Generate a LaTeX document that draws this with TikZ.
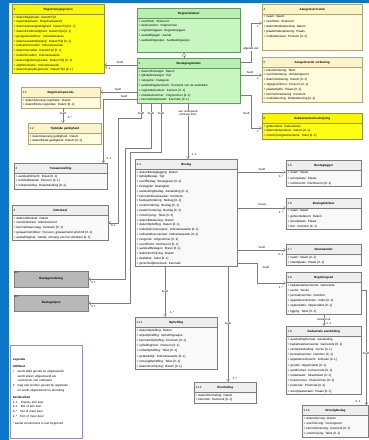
\documentclass[tikz,border=0pt]{standalone}
\usepackage{fontspec}
\setmainfont{Liberation Sans}
\usetikzlibrary{shapes.multipart,arrows.meta}

\definecolor{frameblue}{RGB}{12,118,200}
\definecolor{linegrey}{RGB}{125,125,125}
\definecolor{yellowline}{RGB}{150,145,60}
\definecolor{yellowhead}{RGB}{250,245,0}
\definecolor{yellowbody}{RGB}{255,255,20}
\definecolor{creamline}{RGB}{175,165,115}
\definecolor{creamhead}{RGB}{250,244,200}
\definecolor{creambody}{RGB}{255,252,222}
\definecolor{greenline}{RGB}{95,155,95}
\definecolor{greenhead}{RGB}{185,240,175}
\definecolor{greenbody}{RGB}{200,246,192}
\definecolor{whiteline}{RGB}{125,125,125}
\definecolor{whitehead}{RGB}{238,238,238}
\definecolor{whitebody}{RGB}{249,249,249}
\definecolor{greybox}{RGB}{184,184,184}
\definecolor{legendline}{RGB}{150,140,200}

\newcommand\hd[2]{\rule[-3pt]{0pt}{7.5pt}#1\hfill\textbf{#2}\hfill\phantom{#1}}

\begin{document}
\begin{tikzpicture}
  [
  x=1pt, y=-1pt, font=\fontsize{3}{4.8}\selectfont,
  cls/.style={rectangle split, rectangle split parts=2, rectangle split draw splits,
    draw, anchor=north west, inner xsep=1.5pt, inner ysep=1.2pt, align=left, line width=0.4pt},
  yellowcls/.style={cls, draw=yellowline, rectangle split part fill={yellowhead,yellowbody}},
  creamcls/.style={cls, draw=creamline, rectangle split part fill={creamhead,creambody}},
  greencls/.style={cls, draw=greenline, rectangle split part fill={greenhead,greenbody}},
  whitecls/.style={cls, draw=whiteline, rectangle split part fill={whitehead,whitebody}},
  loose/.style={font=\fontsize{3}{5.2}\selectfont},
  greycls/.style={draw=whiteline, fill=greybox, anchor=north west, minimum width=74pt,
    minimum height=16pt, font=\fontsize{3}{4.8}\selectfont\bfseries, line width=0.4pt},
  assoc/.style={draw=linegrey, line width=0.45pt, -{Straight Barb[length=2.2pt,width=3.2pt]}},
  gen/.style={draw=linegrey, line width=0.45pt, -{Triangle[open,length=4pt,width=4.5pt]}},
  lbl/.style={fill=white, inner sep=0.4pt, font=\fontsize{2.8}{3.2}\selectfont},
  mult/.style={inner sep=0.4pt, font=\fontsize{2.8}{3.2}\selectfont}
  ]

\useasboundingbox (0,0) rectangle (369,440);
\fill[white] (0,0) rectangle (369,440);
\fill[frameblue] (0,0) rectangle (9,440);
\fill[frameblue] (0,0) rectangle (369,3);

% left column
\node[yellowcls, text width=89pt] (regGeg) at (12,4) {\hd{1}{Registratiegegevens}
  \nodepart{second}
  + datumRegistratie: Datum/Tijd\\
  + registratieplaats: Registratieplaats\\
  + datumAanvangGeldigheid: Datum/Tijd [0..1]\\
  + datumEindeGeldigheid: Datum/Tijd [0..1]\\
  + geregistreerdDoor: Indicatiewaarde\\
  + datumLaatsteWijziging: Datum/Tijd [0..1]\\
  + indicatieVervallen: Indicatiewaarde\\
  + datumVervallen: Datum/Tijd [0..1]\\
  + redenVervallen: Indicatiewaarde\\
  + datumAfgifteRegistratie: Datum/Tijd [0..1]\\
  + afgifteIndicatie: Indicatiewaarde\\
  + datumIngangRegistratie: Datum/Tijd [0..1]};

\node[creamcls, text width=76pt] (regHist) at (21,87) {\hd{1.1}{Registratieperiode}
  \nodepart{second}
  + datumAanvang registratie: Datum\\
  + datumEinde registratie: Datum [0..1]};

\node[creamcls, text width=70pt] (tijdGeld) at (28,123) {\hd{1.2}{Tijdelijke geldigheid}
  \nodepart{second}
  + datumAanvang geldigheid: Datum\\
  + datumEinde geldigheid: Datum [0..1]};

\node[whitecls, text width=90pt] (tenaam) at (14,163) {\hd{2}{Tenaamstelling}
  \nodepart{second}
  + aandeelInRecht: Breuk [0..1]\\
  + rechthebbende: Persoon [0..1]\\
  + rolAanduiding: Rolaanduiding [0..1]};

\node[whitecls, text width=93pt] (uitvoer) at (12,205) {\hd{3}{Uittreksel}
  \nodepart{second}
  + datumUittreksel: Datum\\
  + soortUittreksel: Uittrekselsoort\\
  + kenmerkAanvraag: Kenmerk [0..1]\\
  + gewaarmerktDoor: Persoon, gewaarmerkt afschrift [0..1]\\
  + aantalPaginas: Aantal, omvang van het uittreksel [0..1]};

\node[greycls, label={[mult, anchor=north west]north west:3.1}] (beslagVord) at (14,271) {Beslagvordering};
\node[greycls, label={[mult, anchor=north west]north west:3.2}] (beslagObj) at (14,295) {Beslagobject};

\node[draw=legendline, line width=0.5pt, anchor=north west, minimum width=72pt,
  minimum height=93pt, text width=67pt, align=left, inner sep=2pt] (legenda) at (10,345) {
  \textbf{Legenda}\\[2pt]
  \textbf{Attribuut}\\
  +\quad wordt altijd gevuld en uitgewisseld\\
  \phantom{+\quad}wordt alleen uitgewisseld als\\
  \phantom{+\quad}voorkomen niet ontbreekt\\
  \#\quad mag niet worden gevuld bij registratie\\
  \phantom{\#\quad}en wordt uitgewisseld na afronding\\[2pt]
  \textbf{Kardinaliteit}\\
  1..1\quad Precies één keer\\
  0..1\quad Nul of één keer\\
  0..*\quad Nul of meer keer\\
  1..*\quad Eén of meer keer\\[2pt]
  * aantal voorkomens is niet begrensd};

% middle column
\node[greencls, text width=100pt] (regDeel) at (137,8) {\hd{}{Registratiedeel}
  \nodepart{second}
  + soortStuk: Stuksoort\\
  + deelnummer: Volgnummer\\
  + registerOpgave: Registeropgave\\
  + aantalBijlagen: Aantal\\
  + aanbiedingswijze: Aanbiedingswijze\\
  \phantom{x}\\
  \phantom{x}};

\node[greencls, text width=100pt] (kern) at (137,58) {\hd{1}{Beslagregistratie}
  \nodepart{second}
  + datumOntvangst: Datum\\
  + tijdstipOntvangst: Tijd\\
  + categorie: Categorie\\
  + aanbiedingskenmerk: Kenmerk van de aanbieder\\
  + registratiekantoor: Kantoor [0..1]\\
  + stukdeelnummer: Volgnummer [0..1]\\
  + kenmerkAanbieder: Kenmerk [0..1]};

\node[whitecls, text width=99pt] (beslag) at (135,159) {\hd{1.4}{Beslag}
  \nodepart{second}
  + datumBeslaglegging: Datum\\
  + tijdstipBeslag: Tijd\\
  + soortBeslag: Beslagsoort [0..1]\\
  + beslagtitel: Beslagtitel\\
  + aanduidingBeslag: Aanduiding [0..1]\\
  + kenmerkDeurwaarder: Kenmerk\\
  + bedragVordering: Bedrag [0..1]\\
  + renteVordering: Bedrag [0..1]\\
  + kostenVordering: Bedrag [0..1]\\
  + omschrijving: Tekst [0..1]\\
  + datumBetekening: Datum\\
  + datumOpheffing: Datum [0..1]\\
  + indicatieConservatoir: Indicatiewaarde [0..1]\\
  + indicatieExecutoriaal: Indicatiewaarde [0..1]\\
  + rangorde: Volgnummer [0..1]\\
  + soortRecht: Rechtsoort [0..1]\\
  + aandeelBeslagen: Breuk [0..1]\\
  + datumInschrijving: Datum\\
  + deeltekst: Tekst [0..1]\\
  + gerechtelijkKenmerk: Kenmerk};

\node[whitecls, loose, text width=79pt] (opheffing) at (135,317) {\hd{1.11}{Opheffing}
  \nodepart{second}
  + datumOpheffing: Datum\\
  + wijzeOpheffing: Opheffingswijze\\
  + kenmerkOpheffing: Kenmerk [0..1]\\
  + opheffingDoor: Persoon [0..1]\\
  + redenOpheffing: Tekst [0..1]\\
  + gedeeltelijk: Indicatiewaarde [0..1]\\
  + omvangOpheffing: Tekst [0..1]\\
  + datumInschrijving: Datum [0..1]};

\node[whitecls, text width=59pt] (doorhaling) at (194,382) {\hd{1.12}{Doorhaling}
  \nodepart{second}
  + datumDoorhaling: Datum\\
  + kenmerk: Kenmerk [0..1]};

% right column
\node[creamcls, text width=97pt] (stuk) at (262,4) {\hd{4}{Aangeleverd stuk}
  \nodepart{second}
  + naam: Naam\\
  + soortStuk: Stuksoort\\
  + datumOndertekening: Datum\\
  + plaatsOndertekening: Plaats\\
  + ondertekenaar: Persoon [0..1]\\
  \phantom{x}\\[2pt]
  \phantom{x}};

\node[creamcls, text width=97pt] (verklaring) at (262,57) {\hd{5}{Aangeleverde verklaring}
  \nodepart{second}
  + tekstVerklaring: Tekst\\
  + soortVerklaring: Verklaringsoort\\
  + datumVerklaring: Datum [0..1]\\
  + afgegevenDoor: Persoon [0..1]\\
  + plaatsAfgifte: Plaats [0..1]\\
  + kenmerkVerklaring: Kenmerk\\
  + ondertekening: Ondertekening [0..1]};

\node[yellowcls, text width=97pt] (gebeurtenis) at (262,113) {\hd{6}{Gebeurtenisomschrijving}
  \nodepart{second}
  + gebeurtenis: Gebeurtenis\\
  + datumGebeurtenis: Datum [0..1]\\
  + omschrijvingGebeurtenis: Tekst [0..1]};

\node[whitecls, loose, text width=72pt] (legger) at (286,160) {\hd{1.5}{Beslaglegger}
  \nodepart{second}
  + naam: Naam\\
  + woonplaats: Plaats\\
  + rechtsvorm: Rechtsvorm [0..1]};

\node[whitecls, loose, text width=72pt] (debiteur) at (286,198) {\hd{1.6}{Beslagdebiteur}
  \nodepart{second}
  + naam: Naam\\
  + geboortedatum: Datum\\
  + woonplaats: Plaats\\
  + bsn: Nummer [0..1]};

\node[whitecls, loose, text width=72pt] (deurwaarder) at (286,244) {\hd{1.7}{Deurwaarder}
  \nodepart{second}
  + naam: Naam [0..1]\\
  + standplaats: Plaats [0..1]};

\node[whitecls, loose, text width=72pt] (goed) at (286,272) {\hd{1.8}{Registergoed}
  \nodepart{second}
  + kadastraleGemeente: Gemeente\\
  + sectie: Sectie\\
  + perceelnummer: Nummer\\
  + appartementsindex: Index [0..1]\\
  + oppervlakte: Oppervlakte [0..1]\\
  + ligging: Tekst [0..1]};

\node[whitecls, loose, text width=72pt] (perceel) at (286,326) {\hd{1.9}{Kadastrale aanduiding}
  \nodepart{second}
  + aanduidingPerceel: Aanduiding\\
  + kadastraleGemeente: Gemeente [0..1]\\
  + sectieAanduiding: Sectie [0..1]\\
  + perceelnummer: Nummer [0..1]\\
  + appartementsrecht: Indicatie [0..1]\\
  + grootte: Oppervlakte [0..1]\\
  + aardCultuur: Cultuurcode [0..1]\\
  + straatnaam: Straatnaam [0..1]\\
  + huisnummer: Huisnummer [0..1]\\
  + postcode: Postcode [0..1]\\
  + woonplaatsnaam: Plaats [0..1]};

\node[whitecls, loose, text width=63pt] (vervolg) at (302,405) {\hd{1.10}{Vervolgbeslag}
  \nodepart{second}
  + datumVervolg: Datum\\
  + soortVervolg: Vervolgsoort\\
  + kenmerkVervolg: Kenmerk [0..1]\\
  + omschrijving: Tekst [0..1]};

% connectors
\draw[gen] (kern.north -| 184,0) -- (regDeel.south -| 184,0);

\draw[assoc] (kern.west |- 0,65) -- (regGeg.east |- 0,65);
\node[mult] at (120,62.5) {heeft};
\node[mult] at (108,69) {0..1};
\draw[assoc] (kern.west |- 0,92) -- (regHist.east |- 0,92);
\node[mult] at (118,89.5) {heeft};
\draw[assoc] (kern.west |- 0,99) -| ([xshift=-4pt]tenaam.north east);
\node[mult] at (124,96.5) {heeft};
\node[mult] at (109,159) {0..1};
\draw[assoc] (regHist.south -| 63,0) -- (tijdGeld.north -| 63,0);
\node[lbl] at (63,113) {heeft};
\node[mult] at (70,118) {0..*};

\foreach \tgt/\xa/\ya/\xb in {uitvoer/141/118/118, beslagVord/151/148/125, beslagObj/161/152/130} {
  \draw[assoc] (kern.south -| \xa,0) |- (\xb,\ya) |- (\tgt.east);
  \node[lbl] at (\xa,113) {heeft};
  \node[mult, anchor=north west] at ([shift={(2pt,-1.5pt)}]\tgt.east) {0..1};
}

\draw[assoc] (kern.south -| 188,0) -- (beslag.north -| 188,0);
\node[lbl, align=center] at (188,113) {een onderpand\\ontstaan door};
\node[mult] at (194,155) {1..1};

\draw[assoc] (kern.east |- 0,62) -- (251,62) |- (stuk.west |- 0,23);
\node[lbl] at (251,49) {afgeleid van};
\node[mult] at (258,27) {1};
\draw[assoc] (kern.east |- 0,75) -- (verklaring.west |- 0,75);
\node[mult] at (250,72.5) {heeft};
\node[mult] at (258,79) {1};
\draw[assoc] (kern.east |- 0,95) -- (251,95) |- (gebeurtenis.west |- 0,128);
\node[mult, anchor=east] at (250,113) {heeft};
\node[mult] at (258,132) {1};

\foreach \tgt/\yy/\txt/\mm in {legger/172/heeft/{0..*}, debiteur/208/omvat/{1..*}, deurwaarder/250/heeft/{0..1}} {
  \draw[assoc] (beslag.east |- 0,\yy) -- (\tgt.west |- 0,\yy);
  \node[mult] at (262,\yy-3) {\txt};
  \node[mult] at (281,\yy+5) {\mm};
}
\draw[assoc] (beslag.east |- 0,263) -- (257,263) |- (goed.west |- 0,283);
\node[mult] at (266,267) {heeft};
\node[mult] at (281,288) {1..*};
\draw[assoc] (goed.south -| 324,0) -- (perceel.north -| 324,0);
\node[lbl] at (324,319) {bestaat uit};
\node[mult] at (329,324) {1..1};
\draw[assoc] (goed.east |- 0,290) -| ([xshift=-2pt]vervolg.north east);
\node[lbl] at (366,353) {heeft};
\node[mult] at (358,402) {0..1};

\draw[assoc] (beslag.south -| 165,0) -- (opheffing.north -| 165,0);
\node[lbl] at (165,291) {heeft};
\node[mult] at (172,313) {0..*};
\draw[assoc] (beslag.south -| 228,0) -- (doorhaling.north -| 228,0);
\node[lbl] at (228,323) {heeft};
\node[mult] at (235,379) {0..*};

\end{tikzpicture}
\end{document}
